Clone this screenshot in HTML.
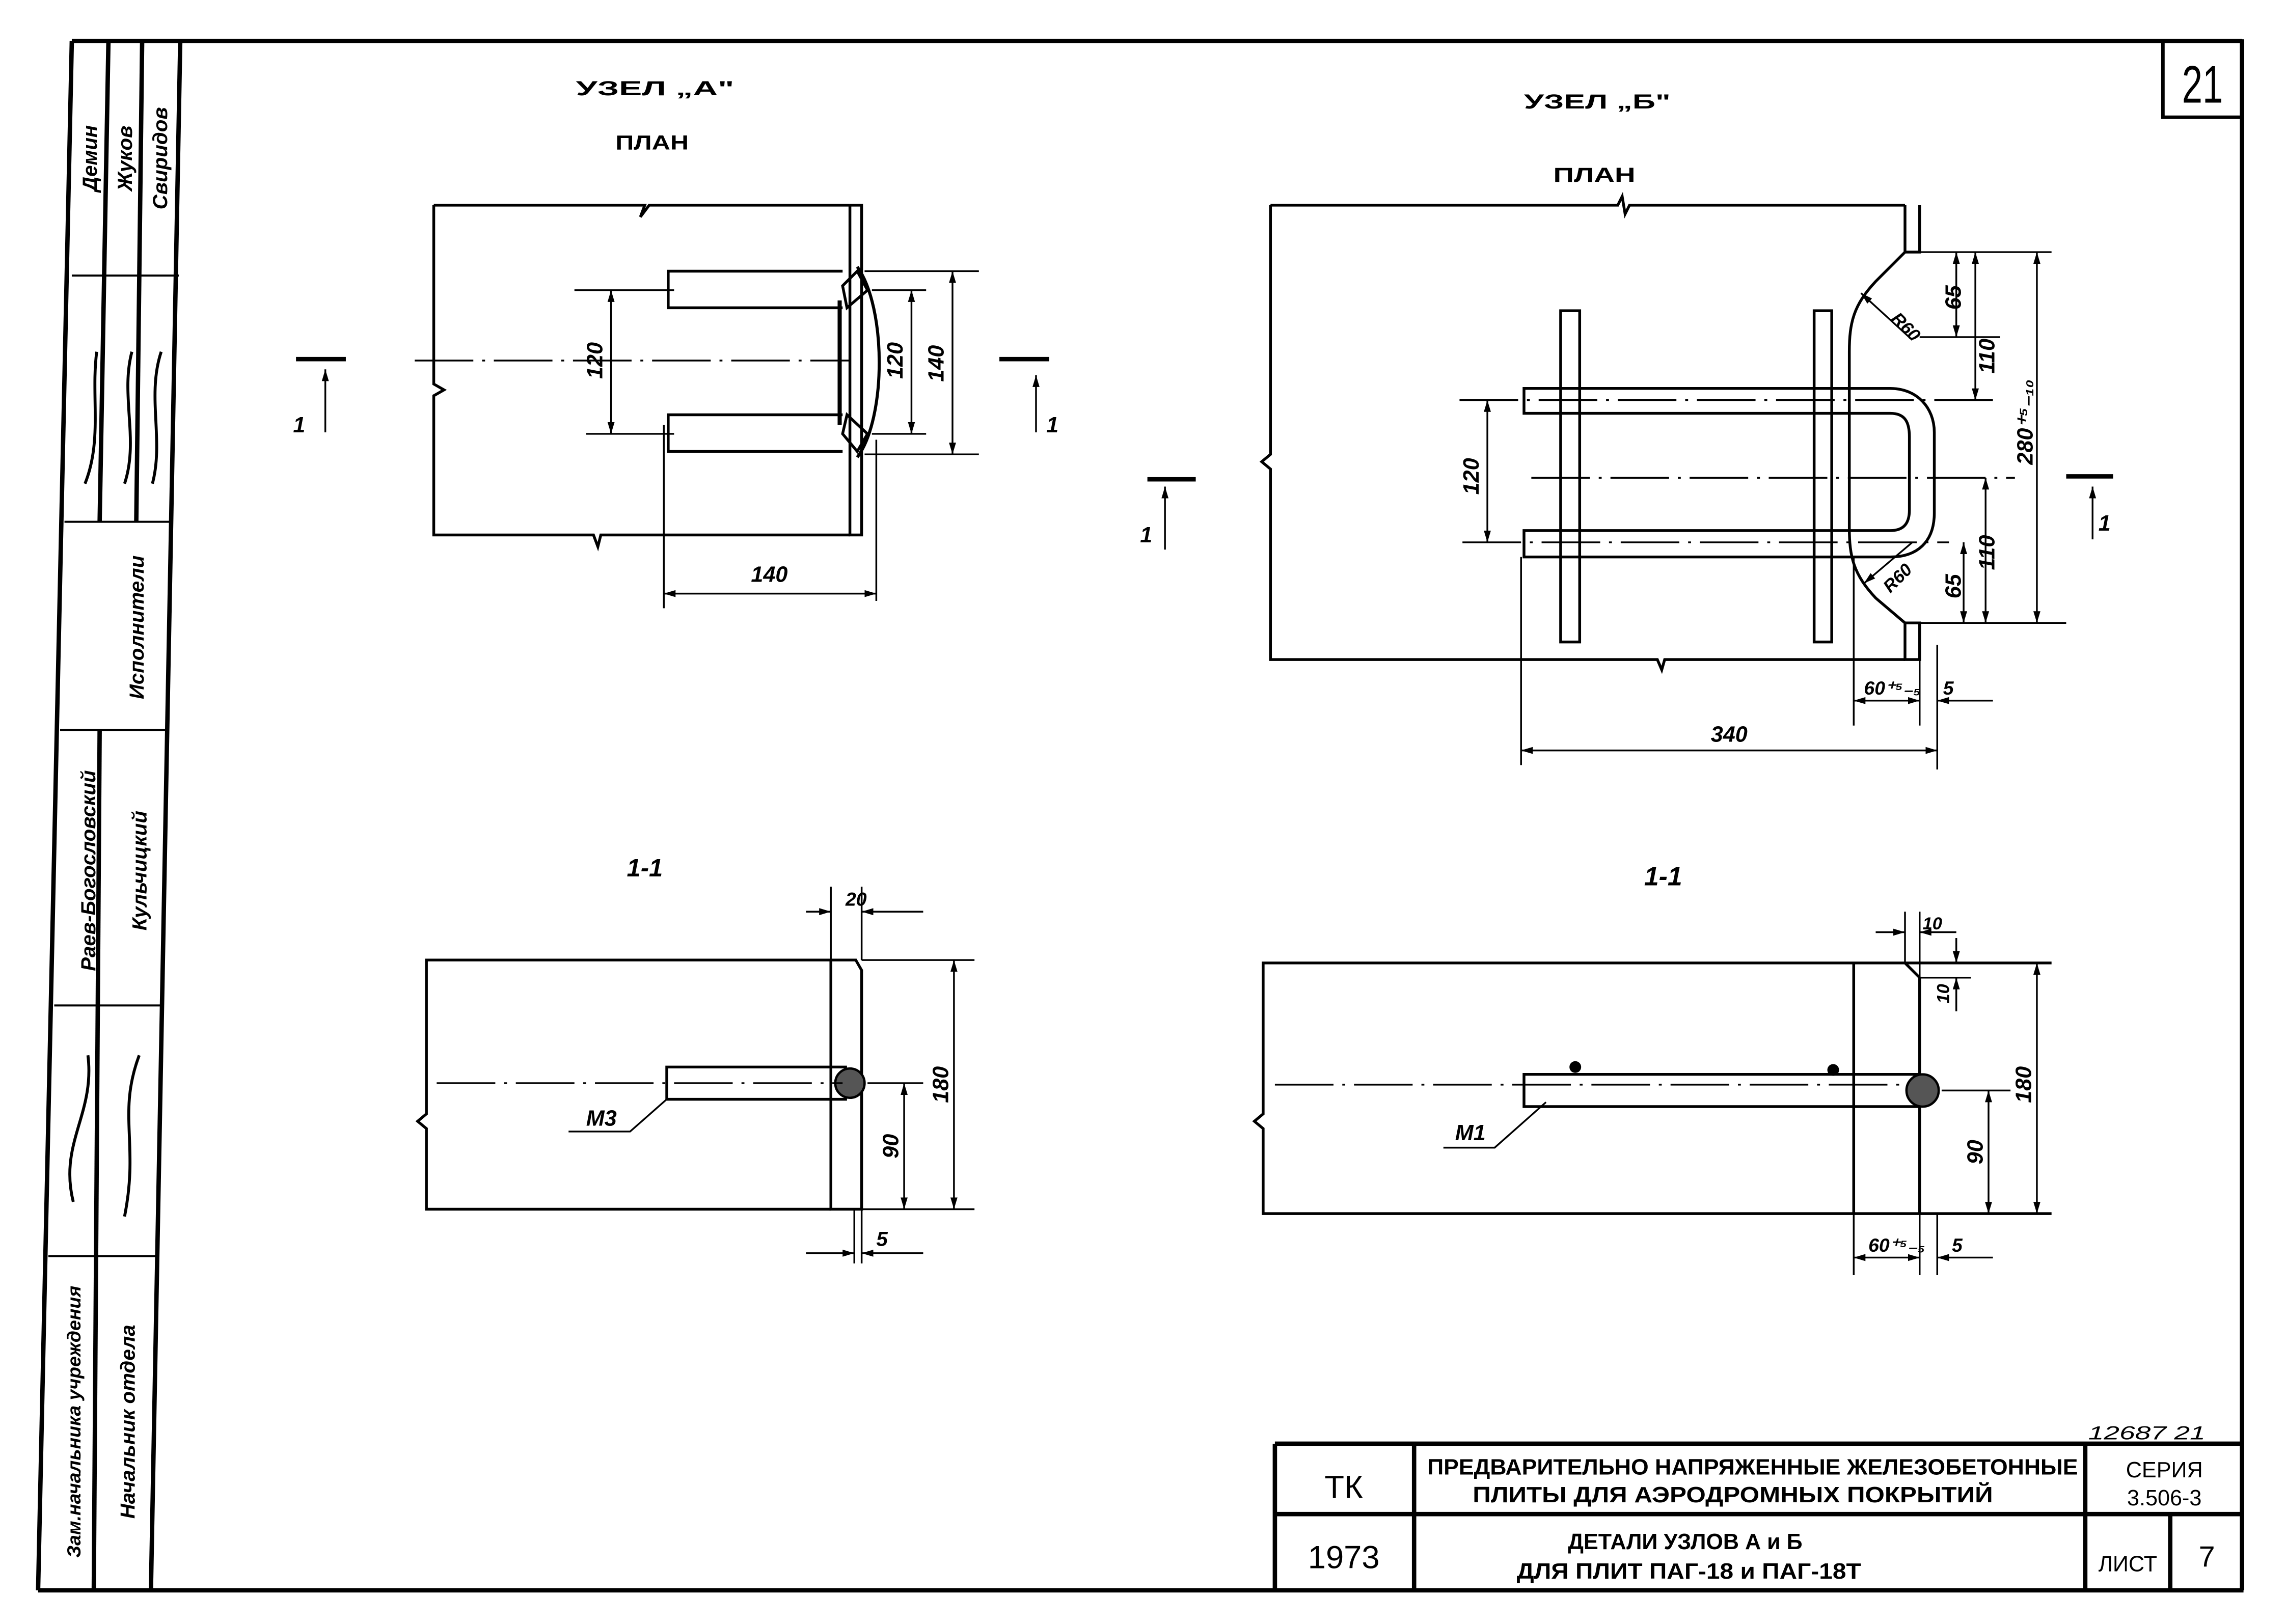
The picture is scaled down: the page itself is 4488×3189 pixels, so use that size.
<!DOCTYPE html>
<html><head><meta charset="utf-8"><style>
html,body{margin:0;padding:0;background:#fff;}
svg{display:block;}
text{font-family:"Liberation Sans",sans-serif;fill:#000;font-weight:bold;}
.i{font-style:italic;}
</style></head><body>
<svg width="4488" height="3189" viewBox="0 0 1560 1108" preserveAspectRatio="none" xmlns="http://www.w3.org/2000/svg">
<defs>
<marker id="a" viewBox="0 0 10 10" refX="10" refY="5" markerWidth="8" markerHeight="8" orient="auto-start-reverse" markerUnits="userSpaceOnUse"><path d="M0,2 L10,5 L0,8 z" fill="#000"/></marker>
</defs>
<g fill="none" stroke="#000">
<!-- frame -->
<g stroke-width="3">
<line x1="49" y1="28" x2="1530" y2="28"/>
<line x1="1530" y1="27" x2="1530" y2="1085"/>
<line x1="26" y1="1085" x2="1531" y2="1085"/>
<line x1="123" y1="28" x2="103" y2="1085"/>
<line x1="49" y1="28" x2="26" y2="1085"/>
<line x1="74" y1="28" x2="68" y2="356"/>
<line x1="68" y1="498" x2="64" y2="1085"/>
<line x1="97" y1="28" x2="93" y2="356"/>
</g>
<g stroke-width="1.4">
<line x1="49" y1="188" x2="122" y2="188"/>
<line x1="44" y1="356" x2="116" y2="356"/>
<line x1="41" y1="498" x2="113" y2="498"/>
<line x1="37" y1="686" x2="110" y2="686"/>
<line x1="33" y1="857" x2="106" y2="857"/>
</g>
<rect x="1476" y="28" width="54" height="52" stroke-width="2.4"/>
<!-- title block -->
<g stroke-width="3">
<line x1="870" y1="985" x2="1530" y2="985"/>
<line x1="870" y1="1033" x2="1530" y2="1033"/>
<line x1="870" y1="985" x2="870" y2="1085"/>
<line x1="965" y1="985" x2="965" y2="1085"/>
<line x1="1423" y1="985" x2="1423" y2="1085"/>
<line x1="1481" y1="1033" x2="1481" y2="1085"/>
</g>

<!-- NODE A plan -->
<g stroke-width="1.9">
<path d="M296,140 H440 l-3,8 l6,-8 H580 M296,140 V262 l7,4 l-7,4 V365 H405 l3,8 l2,-8 H580"/>
<path d="M580,140 H588 V365 H580 V140"/>
<path d="M575,185 H456 V210 H575 M575,283 H456 V308 H575"/>
<path d="M585,182 C605,210 605,285 585,312" stroke-width="2.1"/>
<path d="M575,195 L585,185 L592,198 L578,210 Z M575,296 L585,308 L592,296 L578,283 Z"/>
<path d="M573,205 V290" stroke-width="2.8"/>
</g>
<g stroke-width="1.2">
<line x1="283" y1="246" x2="580" y2="246" stroke-dasharray="40,6,2,6"/>
<line x1="392" y1="198" x2="460" y2="198"/><line x1="400" y1="296" x2="460" y2="296"/>
<line x1="417" y1="198" x2="417" y2="296" marker-start="url(#a)" marker-end="url(#a)"/>
<line x1="595" y1="198" x2="632" y2="198"/><line x1="595" y1="296" x2="632" y2="296"/>
<line x1="622" y1="198" x2="622" y2="296" marker-start="url(#a)" marker-end="url(#a)"/>
<line x1="590" y1="185" x2="668" y2="185"/><line x1="590" y1="310" x2="668" y2="310"/>
<line x1="650" y1="185" x2="650" y2="310" marker-start="url(#a)" marker-end="url(#a)"/>
<line x1="453" y1="290" x2="453" y2="415"/><line x1="598" y1="300" x2="598" y2="410"/>
<line x1="453" y1="405" x2="598" y2="405" marker-start="url(#a)" marker-end="url(#a)"/>
<line x1="222" y1="295" x2="222" y2="252" marker-end="url(#a)"/>
<line x1="707" y1="295" x2="707" y2="256" marker-end="url(#a)"/>
</g>
<line x1="202" y1="245" x2="236" y2="245" stroke-width="3"/>
<line x1="682" y1="245" x2="716" y2="245" stroke-width="3"/>

<!-- NODE B plan -->
<g stroke-width="1.9">
<path d="M867,140 H1104 l3,-6 l2,12 l3,-6 H1300 M867,140 V310 l-6,5 l6,5 V450 H1131 l3,7 l2,-7 H1300"/>
<path d="M1300,140 V172 M1310,140 V172 H1300 M1300,172 L1280,192 C1265,208 1262,220 1262,240 V360 C1262,380 1265,392 1280,408 L1300,425 H1310 V450 H1300 V425"/>
<rect x="1065" y="212" width="13" height="226"/>
<rect x="1238" y="212" width="12" height="226"/>
<path d="M1290,265 H1040 V282 H1290 C1300,282 1303,288 1303,298 V348 C1303,356 1300,362 1290,362 H1040 V380 H1290 C1308,380 1320,370 1320,350 V295 C1320,278 1308,265 1290,265"/>
</g>
<g stroke-width="1.2">
<line x1="996" y1="273" x2="1360" y2="273" stroke-dasharray="40,6,2,6"/>
<line x1="998" y1="370" x2="1330" y2="370" stroke-dasharray="40,6,2,6"/>
<line x1="1045" y1="326" x2="1375" y2="326" stroke-dasharray="40,6,2,6"/>
<line x1="1015" y1="273" x2="1015" y2="370" marker-start="url(#a)" marker-end="url(#a)"/>
<line x1="1310" y1="172" x2="1400" y2="172"/>
<line x1="1300" y1="425" x2="1410" y2="425"/>
<line x1="1310" y1="230" x2="1365" y2="230"/>
<line x1="1335" y1="172" x2="1335" y2="230" marker-start="url(#a)" marker-end="url(#a)"/>
<line x1="1348" y1="172" x2="1348" y2="273" marker-start="url(#a)" marker-end="url(#a)"/>
<line x1="1390" y1="172" x2="1390" y2="425" marker-start="url(#a)" marker-end="url(#a)"/>
<line x1="1340" y1="370" x2="1340" y2="425" marker-start="url(#a)" marker-end="url(#a)"/>
<line x1="1355" y1="326" x2="1355" y2="425" marker-start="url(#a)" marker-end="url(#a)"/>
<line x1="1270" y1="200" x2="1305" y2="232" marker-start="url(#a)"/>
<line x1="1272" y1="398" x2="1305" y2="370" marker-start="url(#a)"/>
<line x1="1265" y1="380" x2="1265" y2="495"/><line x1="1310" y1="450" x2="1310" y2="495"/><line x1="1322" y1="440" x2="1322" y2="525"/>
<line x1="1265" y1="478" x2="1310" y2="478" marker-start="url(#a)" marker-end="url(#a)"/>
<line x1="1360" y1="478" x2="1322" y2="478" marker-end="url(#a)"/>
<line x1="1038" y1="380" x2="1038" y2="522"/>
<line x1="1038" y1="512" x2="1322" y2="512" marker-start="url(#a)" marker-end="url(#a)"/>
<line x1="795" y1="375" x2="795" y2="332" marker-end="url(#a)"/>
<line x1="1428" y1="368" x2="1428" y2="332" marker-end="url(#a)"/>
</g>
<line x1="783" y1="327" x2="816" y2="327" stroke-width="3"/>
<line x1="1410" y1="325" x2="1442" y2="325" stroke-width="3"/>

<!-- SECTION A -->
<g stroke-width="1.9">
<path d="M567,655 H291 V760 l-6,5 l6,5 V825 H567"/>
<path d="M567,655 V825 H588 V662 L584,655 H567"/>
<path d="M578,728 H455 V750 H578"/>
</g>
<circle cx="580" cy="739" r="10" stroke-width="1.6" fill="#555"/>
<g stroke-width="1.2">
<line x1="298" y1="739" x2="575" y2="739" stroke-dasharray="40,6,2,6"/>
<line x1="588" y1="655" x2="665" y2="655"/><line x1="588" y1="825" x2="665" y2="825"/>
<line x1="651" y1="655" x2="651" y2="825" marker-start="url(#a)" marker-end="url(#a)"/>
<line x1="592" y1="739" x2="630" y2="739"/>
<line x1="617" y1="739" x2="617" y2="825" marker-start="url(#a)" marker-end="url(#a)"/>
<path d="M455,750 L430,772 H388"/>
<line x1="567" y1="605" x2="567" y2="655"/><line x1="588" y1="605" x2="588" y2="655"/>
<line x1="550" y1="622" x2="567" y2="622" marker-end="url(#a)"/><line x1="630" y1="622" x2="588" y2="622" marker-end="url(#a)"/>
<line x1="583" y1="825" x2="583" y2="862"/><line x1="588" y1="825" x2="588" y2="862"/>
<line x1="550" y1="855" x2="583" y2="855" marker-end="url(#a)"/><line x1="630" y1="855" x2="588" y2="855" marker-end="url(#a)"/>
</g>

<!-- SECTION B -->
<g stroke-width="1.9">
<path d="M1400,657 H862 V760 l-6,5 l6,5 V828 H1400"/>
<path d="M1265,657 V828 M1300,657 L1310,667 V828"/>
<path d="M1310,733 H1040 V755 H1310"/>
</g>
<circle cx="1312" cy="744" r="11" stroke-width="1.6" fill="#555"/>
<circle cx="1075" cy="728" r="4" fill="#000" stroke="none"/>
<circle cx="1251" cy="730" r="4" fill="#000" stroke="none"/>
<g stroke-width="1.2">
<line x1="870" y1="740" x2="1300" y2="740" stroke-dasharray="40,6,2,6"/>
<line x1="1390" y1="657" x2="1390" y2="828" marker-start="url(#a)" marker-end="url(#a)"/>
<line x1="1325" y1="744" x2="1372" y2="744"/>
<line x1="1357" y1="744" x2="1357" y2="828" marker-start="url(#a)" marker-end="url(#a)"/>
<line x1="1300" y1="622" x2="1300" y2="657"/><line x1="1310" y1="622" x2="1310" y2="667"/>
<line x1="1280" y1="636" x2="1300" y2="636" marker-end="url(#a)"/><line x1="1335" y1="636" x2="1310" y2="636" marker-end="url(#a)"/>
<line x1="1310" y1="667" x2="1345" y2="667"/>
<line x1="1335" y1="640" x2="1335" y2="657" marker-end="url(#a)"/><line x1="1335" y1="690" x2="1335" y2="667" marker-end="url(#a)"/>
<path d="M1055,752 L1020,783 H985"/>
<line x1="1265" y1="828" x2="1265" y2="870"/><line x1="1310" y1="828" x2="1310" y2="870"/><line x1="1322" y1="828" x2="1322" y2="870"/>
<line x1="1265" y1="858" x2="1310" y2="858" marker-start="url(#a)" marker-end="url(#a)"/>
<line x1="1360" y1="858" x2="1322" y2="858" marker-end="url(#a)"/>
</g>
</g>

<!-- TEXT -->
<g font-size="14">
<text x="393" y="65" textLength="108" lengthAdjust="spacingAndGlyphs">УЗЕЛ „А"</text>
<text x="420" y="102" textLength="50" lengthAdjust="spacingAndGlyphs">ПЛАН</text>
<text x="1040" y="74" textLength="100" lengthAdjust="spacingAndGlyphs">УЗЕЛ „Б"</text>
<text x="1060" y="124" textLength="56" lengthAdjust="spacingAndGlyphs">ПЛАН</text>
</g>
<g class="i" font-size="15">
<text transform="translate(411,246) rotate(-90)" text-anchor="middle">120</text>
<text transform="translate(616,246) rotate(-90)" text-anchor="middle">120</text>
<text transform="translate(644,248) rotate(-90)" text-anchor="middle">140</text>
<text x="525" y="397" text-anchor="middle">140</text>
<text x="200" y="295">1</text><text x="714" y="295">1</text>
<text transform="translate(1009,325) rotate(-90)" text-anchor="middle">120</text>
<text transform="translate(1338,203) rotate(-90)" text-anchor="middle">65</text>
<text transform="translate(1361,243) rotate(-90)" text-anchor="middle">110</text>
<text transform="translate(1387,288) rotate(-90)" text-anchor="middle">280⁺⁵₋₁₀</text>
<text transform="translate(1361,377) rotate(-90)" text-anchor="middle">110</text>
<text transform="translate(1338,400) rotate(-90)" text-anchor="middle">65</text>
<text transform="translate(1290,218) rotate(45)" font-size="12">R60</text>
<text transform="translate(1290,405) rotate(-45)" font-size="12">R60</text>
<text x="1272" y="474" font-size="13">60⁺⁵₋₅</text>
<text x="1326" y="474" font-size="13">5</text>
<text x="1180" y="506" text-anchor="middle">340</text>
<text x="778" y="370">1</text><text x="1432" y="362">1</text>
<text x="440" y="598" text-anchor="middle" font-size="17">1-1</text>
<text x="1135" y="604" text-anchor="middle" font-size="18">1-1</text>
<text x="577" y="618" font-size="13">20</text>
<text transform="translate(647,740) rotate(-90)" text-anchor="middle">180</text>
<text transform="translate(613,782) rotate(-90)" text-anchor="middle">90</text>
<text x="400" y="768" font-size="15">М3</text>
<text x="598" y="850" font-size="14">5</text>
<text x="1312" y="634" font-size="12">10</text>
<text transform="translate(1330,678) rotate(-90)" text-anchor="middle" font-size="12">10</text>
<text transform="translate(1386,740) rotate(-90)" text-anchor="middle">180</text>
<text transform="translate(1353,786) rotate(-90)" text-anchor="middle">90</text>
<text x="993" y="778" font-size="15">М1</text>
<text x="1275" y="854" font-size="13">60⁺⁵₋₅</text>
<text x="1332" y="854" font-size="13">5</text>
</g>
<text x="1503" y="70" font-size="36" text-anchor="middle" textLength="28" lengthAdjust="spacingAndGlyphs" style="font-weight:normal">21</text>
<!-- title block text -->
<g font-size="15">
<text x="1425" y="982" class="i" font-size="13" textLength="80" lengthAdjust="spacingAndGlyphs" style="font-weight:normal">12687   21</text>
<text x="917" y="1022" font-size="22" text-anchor="middle" style="font-weight:normal">ТК</text>
<text x="917" y="1070" font-size="22" text-anchor="middle" style="font-weight:normal">1973</text>
<text x="974" y="1006" textLength="444" lengthAdjust="spacingAndGlyphs">ПРЕДВАРИТЕЛЬНО НАПРЯЖЕННЫЕ ЖЕЛЕЗОБЕТОННЫЕ</text>
<text x="1005" y="1025" textLength="355" lengthAdjust="spacingAndGlyphs">ПЛИТЫ ДЛЯ АЭРОДРОМНЫХ ПОКРЫТИЙ</text>
<text x="1477" y="1008" text-anchor="middle" style="font-weight:normal">СЕРИЯ</text>
<text x="1477" y="1027" text-anchor="middle" style="font-weight:normal">3.506-3</text>
<text x="1070" y="1057" textLength="160" lengthAdjust="spacingAndGlyphs">ДЕТАЛИ УЗЛОВ А и Б</text>
<text x="1035" y="1077" textLength="235" lengthAdjust="spacingAndGlyphs">ДЛЯ ПЛИТ ПАГ-18 и ПАГ-18Т</text>
<text x="1452" y="1072" text-anchor="middle" style="font-weight:normal">ЛИСТ</text>
<text x="1506" y="1069" font-size="20" text-anchor="middle" style="font-weight:normal">7</text>
</g>
<!-- sidebar text -->
<g class="i" font-size="14" style="font-weight:normal">
<text transform="translate(66,108) rotate(-90)" text-anchor="middle">Демин</text>
<text transform="translate(90,108) rotate(-90)" text-anchor="middle">Жуков</text>
<text transform="translate(114,108) rotate(-90)" text-anchor="middle">Свиридов</text>
<text transform="translate(98,428) rotate(-90)" text-anchor="middle">Исполнители</text>
<text transform="translate(65,594) rotate(-90)" text-anchor="middle">Раев-Богословский</text>
<text transform="translate(100,594) rotate(-90)" text-anchor="middle">Кульчицкий</text>
<text transform="translate(55,970) rotate(-90)" text-anchor="middle" font-size="13">Зам.начальника учреждения</text>
<text transform="translate(92,970) rotate(-90)" text-anchor="middle">Начальник отдела</text>
</g>
<g fill="none" stroke="#000" stroke-width="2">
<path d="M58,330 C70,300 62,270 66,240 M85,330 C95,300 82,270 90,240 M104,330 C112,300 100,270 110,240"/>
<path d="M50,820 C40,780 65,760 60,720 M85,830 C95,780 80,760 95,720"/>
</g>
</svg>
</body></html>
